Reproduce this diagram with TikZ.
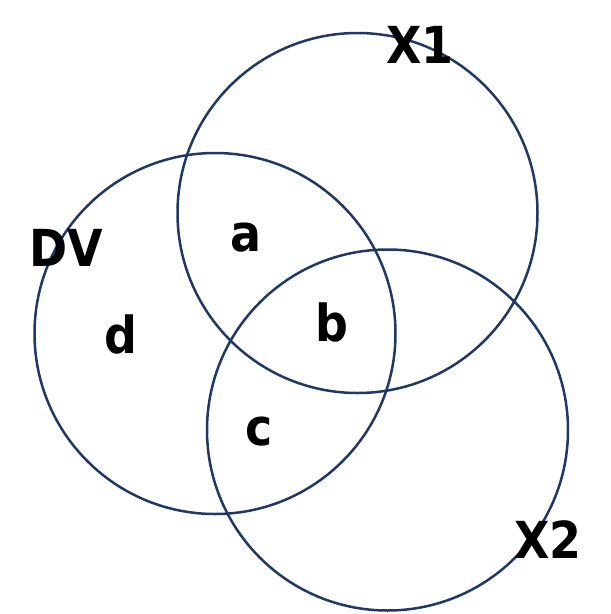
\documentclass[tikz,border=0pt]{standalone}
\usepackage{fontspec}
\newfontfamily\lblfont{DejaVu Sans Condensed}
\definecolor{navy}{RGB}{31,56,100}
\tikzset{
  ring/.style={draw=navy, line width=2.5pt},
  lbl/.style={anchor=base, inner sep=0pt, font=\lblfont\bfseries\fontsize{51}{51}\selectfont, text=black}
}
\begin{document}
\begin{tikzpicture}[x=1pt,y=-1pt]
\useasboundingbox (0,0) rectangle (611,614);
\draw[ring] (215,333.5) circle[radius=180.5];
\draw[ring] (357.5,213) circle[radius=180];
\draw[ring] (387.5,430) circle[radius=180.5];
\node[lbl] (x1) at (420,63) {X1};
\node[lbl] (dv) at (66,266) {DV};
\node[lbl] (x2) at (548,558) {X2};
\node[lbl] (a) at (246,251) {a};
\node[lbl] (b) at (331.5,341) {b};
\node[lbl] (c) at (259.5,445) {c};
\node[lbl] (d) at (120.5,353) {d};
\end{tikzpicture}
\end{document}
